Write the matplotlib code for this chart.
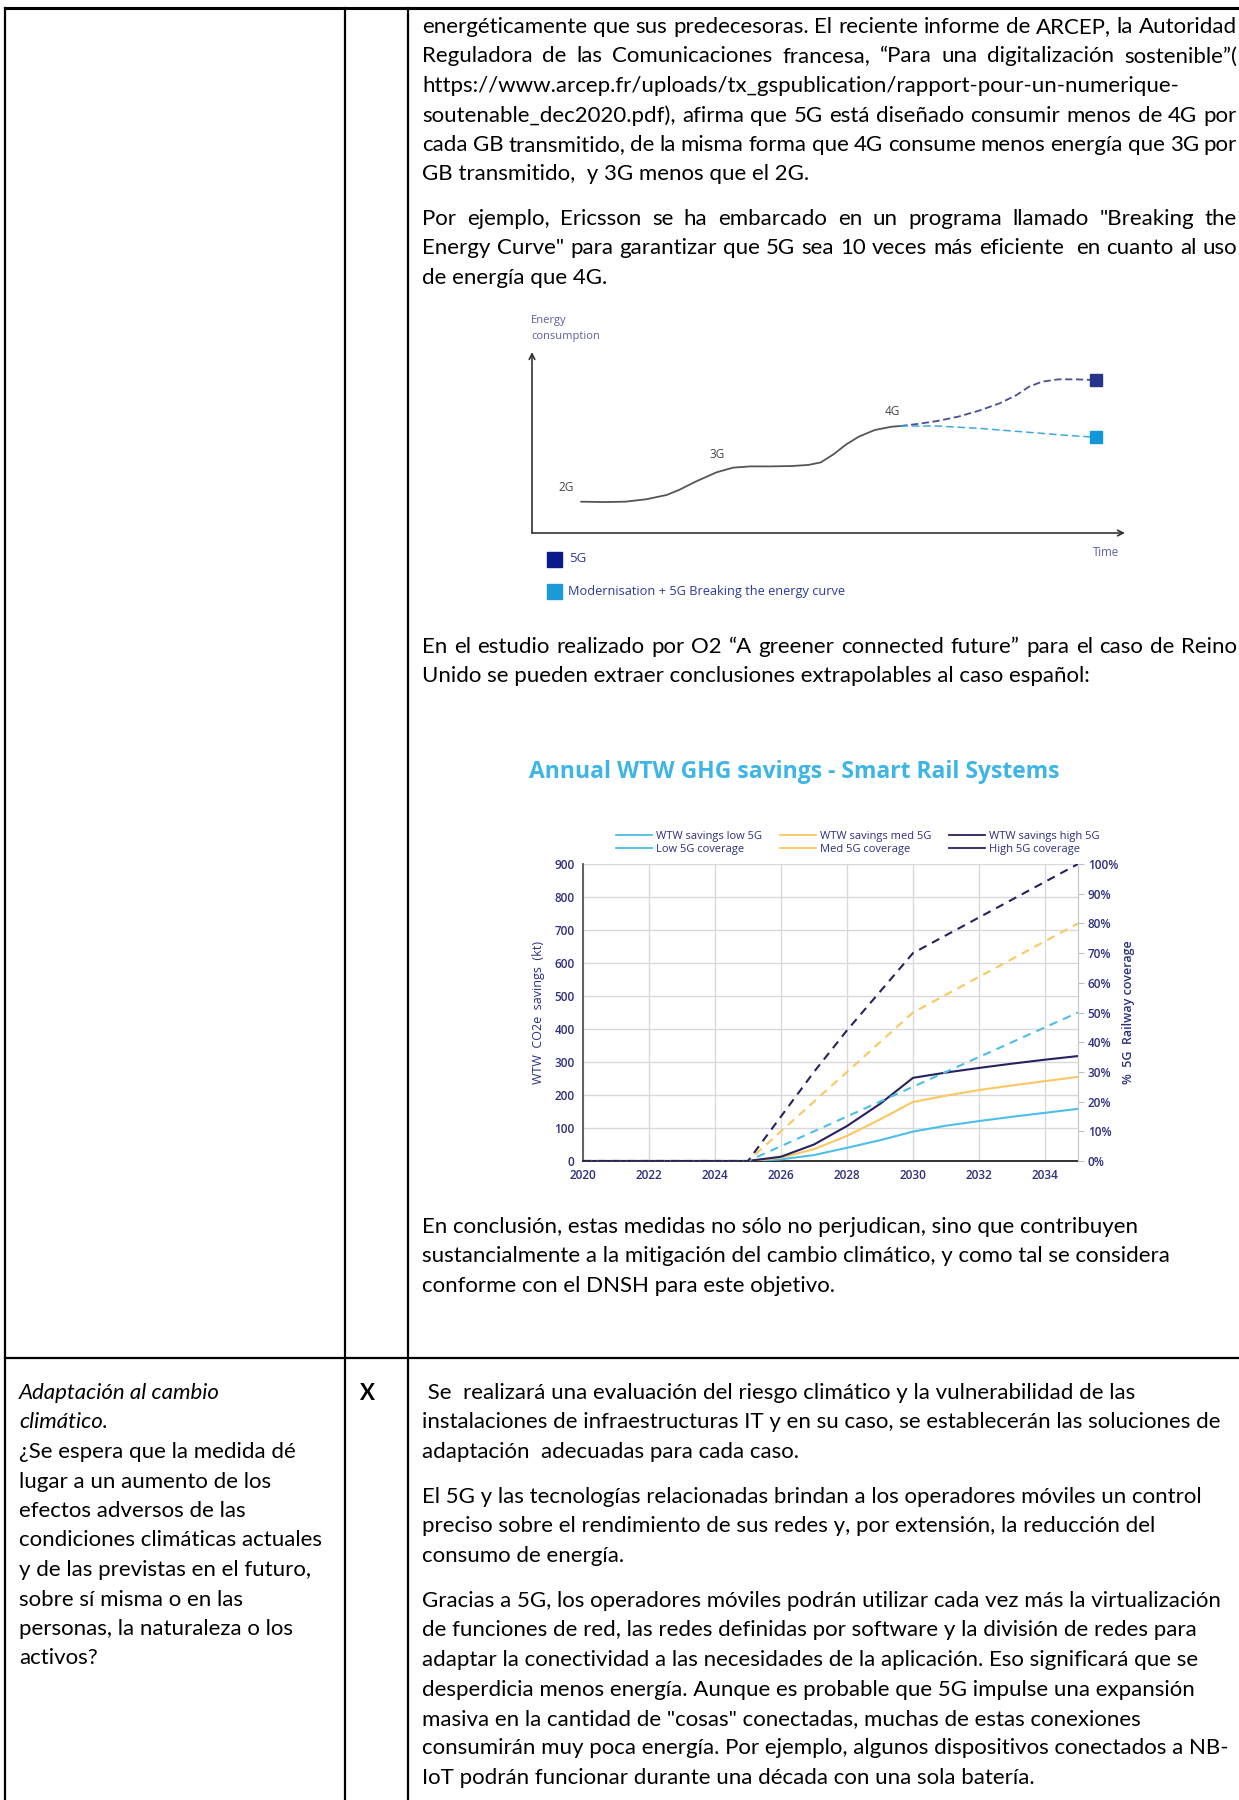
import matplotlib
matplotlib.use('Agg')
import matplotlib.pyplot as plt
from matplotlib.lines import Line2D
from matplotlib.patches import Rectangle

W, H = 1239, 1800

# --- chart 1: energy consumption sketch (x: time 0-100, y: energy 0-100)
gen_x = [8.3, 12.2, 15.7, 19.2, 22.7, 24.8, 27.6, 31.1, 33.9, 36.8, 40.3,
         43.8, 46.6, 48.7, 50.9, 53.0, 55.1, 57.8, 60.6, 62.1]
gen_y = [17.3, 17.1, 17.3, 18.6, 21.0, 23.8, 28.4, 33.5, 36.1, 36.8, 36.8,
         37.0, 37.6, 39.0, 43.6, 49.0, 53.2, 56.9, 58.7, 59.1]
g5_x = [62.1, 64.9, 68.4, 71.9, 75.4, 78.9, 81.7, 83.8, 86.0, 88.8, 91.6, 95.1]
g5_y = [59.1, 60.2, 61.9, 64.3, 67.6, 71.7, 76.2, 80.8, 83.6, 84.9, 84.9, 84.5]
mod_x = [62.1, 68.4, 75.4, 82.4, 89.5, 95.1]
mod_y = [59.1, 59.1, 57.8, 56.0, 54.1, 52.9]
gen_labels = ['2G', '3G', '4G']
gen_label_pos = [(5.7, 24.9), (31.2, 43.1), (60.7, 67.4)]

# --- chart 2: annual WTW GHG savings
years = list(range(2020, 2036))
low_wtw = [0, 0, 0, 0, 0, 0, 5, 18, 40, 63, 89, 107, 121, 134, 146, 158]
med_wtw = [0, 0, 0, 0, 0, 0, 10, 36, 76, 126, 179, 198, 215, 229, 242, 255]
high_wtw = [0, 0, 0, 0, 0, 0, 13, 50, 106, 173, 252, 268, 282, 295, 307, 318]
low_cov = [0, 0, 0, 0, 0, 0, 5, 10, 15, 20, 25, 30, 35, 40, 45, 50]
med_cov = [0, 0, 0, 0, 0, 0, 10, 20, 30, 40, 50, 56, 62, 68, 74, 80]
high_cov = [0, 0, 0, 0, 0, 0, 15, 30, 44, 57, 70, 76, 82, 88, 94, 100]
x_ticks = [2020, 2022, 2024, 2026, 2028, 2030, 2032, 2034]
y_ticks = [0, 100, 200, 300, 400, 500, 600, 700, 800, 900]
pct_ticks = [0, 10, 20, 30, 40, 50, 60, 70, 80, 90, 100]

# --- page text
p1 = ["energéticamente que sus predecesoras. El reciente informe de ARCEP, la Autoridad",
      "Reguladora de las Comunicaciones francesa, “Para una digitalización sostenible”(",
      "https://www.arcep.fr/uploads/tx_gspublication/rapport-pour-un-numerique-",
      "soutenable_dec2020.pdf), afirma que 5G está diseñado consumir menos de 4G por",
      "cada GB transmitido, de la misma forma que 4G consume menos energía que 3G por",
      "GB transmitido,  y 3G menos que el 2G."]
p1_just = [True, True, False, True, True, False]
p2 = ["Por ejemplo, Ericsson se ha embarcado en un programa llamado \"Breaking the",
      "Energy Curve\" para garantizar que 5G sea 10 veces más eficiente  en cuanto al uso",
      "de energía que 4G."]
p2_just = [True, True, False]
p3 = ["En el estudio realizado por O2 “A greener connected future” para el caso de Reino",
      "Unido se pueden extraer conclusiones extrapolables al caso español:"]
p3_just = [True, False]
p4 = ["En conclusión, estas medidas no sólo no perjudican, sino que contribuyen",
      "sustancialmente a la mitigación del cambio climático, y como tal se considera",
      "conforme con el DNSH para este objetivo."]
q1 = [" Se  realizará una evaluación del riesgo climático y la vulnerabilidad de las",
      "instalaciones de infraestructuras IT y en su caso, se establecerán las soluciones de",
      "adaptación  adecuadas para cada caso."]
q2 = ["El 5G y las tecnologías relacionadas brindan a los operadores móviles un control",
      "preciso sobre el rendimiento de sus redes y, por extensión, la reducción del",
      "consumo de energía."]
q3 = ["Gracias a 5G, los operadores móviles podrán utilizar cada vez más la virtualización",
      "de funciones de red, las redes definidas por software y la división de redes para",
      "adaptar la conectividad a las necesidades de la aplicación. Eso significará que se",
      "desperdicia menos energía. Aunque es probable que 5G impulse una expansión",
      "masiva en la cantidad de \"cosas\" conectadas, muchas de estas conexiones",
      "consumirán muy poca energía. Por ejemplo, algunos dispositivos conectados a NB-",
      "IoT podrán funcionar durante una década con una sola batería."]
left_col = ["Adaptación al cambio", "climático.", "¿Se espera que la medida dé",
            "lugar a un aumento de los", "efectos adversos de las",
            "condiciones climáticas actuales", "y de las previstas en el futuro,",
            "sobre sí misma o en las", "personas, la naturaleza o los", "activos?"]
left_italic = [True, True, False, False, False, False, False, False, False, False]

BODY = 'Lato'
CHART = 'Open Sans'
NAVY = '#2c2f7e'
C_LOW = '#4dbde9'
C_MED = '#fcc660'
C_HIGH = '#262160'


def px_rect(l, t, r, b):
    return [l / W, 1 - b / H, (r - l) / W, (b - t) / H]


fig = plt.figure(figsize=(W / 100, H / 100), dpi=100)
page = fig.add_axes([0, 0, 1, 1])
page.set_xlim(0, W)
page.set_ylim(H, 0)
page.axis('off')
renderer = fig.canvas.get_renderer()


def text_width(s, size, style='normal'):
    t = page.text(0, 0, s, fontsize=size, family=BODY, style=style)
    w = t.get_window_extent(renderer=renderer).width
    t.remove()
    return w


# fit body size on a non-justified reference line
body_size = 10 * 716 / text_width(p4[0], 10)


def put_line(s, x, y, right=None, style='normal', weight='normal'):
    if right is None:
        page.text(x, y, s, fontsize=body_size, family=BODY, style=style,
                  weight=weight, va='center', ha='left')
        return
    words = s.split(' ')
    widths = [text_width(w, body_size) for w in words]
    gap = (right - x - sum(widths)) / (len(words) - 1)
    pos = x
    for w, wd in zip(words, widths):
        page.text(pos, y, w, fontsize=body_size, family=BODY, va='center', ha='left')
        pos += wd + gap


def put_par(lines, y0, x=422, just=None, pitch=29.5):
    for i, s in enumerate(lines):
        r = 1237 if (just and just[i]) else None
        put_line(s, x, y0 + i * pitch, right=r)


put_par(p1, 27, just=p1_just)
put_par(p2, 219, just=p2_just)
put_par(p3, 647, just=p3_just)
put_par(p4, 1227)
put_par(q1, 1393)
put_par(q2, 1497)
put_par(q3, 1601)
for i, s in enumerate(left_col):
    put_line(s, 19, 1393 + i * 29.5, style='italic' if left_italic[i] else 'normal')
page.text(367, 1393, 'X', fontsize=body_size, family=BODY, weight='bold',
          va='center', ha='center')

# table rules
page.plot([5, W], [8, 8], color='black', lw=2.2)
page.plot([5, W], [1358, 1358], color='black', lw=1.6)
for xv in [5, 345, 408]:
    page.plot([xv, xv], [8, H], color='black', lw=1.6)

# --- chart 1
ax1 = fig.add_axes(px_rect(532, 352, 1125, 533))
ax1.set_xlim(0, 100)
ax1.set_ylim(0, 100)
ax1.axis('off')
ax1.annotate('', xy=(100, 0), xytext=(0, 0),
             arrowprops=dict(arrowstyle='->', color='#333333', lw=1.2, shrinkA=0, shrinkB=0))
ax1.annotate('', xy=(0, 100), xytext=(0, 0),
             arrowprops=dict(arrowstyle='->', color='#333333', lw=1.2, shrinkA=0, shrinkB=0))
ax1.plot(gen_x, gen_y, color='#555555', lw=1.3)
ax1.plot(g5_x, g5_y, color='#4a4f8f', lw=1.3, ls=(0, (4, 2)))
ax1.plot(mod_x, mod_y, color='#3fa7e0', lw=1.1, ls=(0, (5, 2.5)))
ax1.plot([g5_x[-1]], [g5_y[-1]], marker='s', ms=9, color='#26348a', ls='none')
ax1.plot([mod_x[-1]], [mod_y[-1]], marker='s', ms=9, color='#1196d6', ls='none')
for lab, (lx, ly) in zip(gen_labels, gen_label_pos):
    ax1.text(lx, ly, lab, fontsize=8.5, family=CHART, color='#444444', ha='center', va='center')
for i, s in enumerate(['Energy', 'consumption']):
    page.text(531, 321 + i * 15, s, fontsize=8, family=CHART, color='#5a5f9a',
              va='center', ha='left')
page.text(1106, 553, 'Time', fontsize=8.3, family=CHART, color='#5a5f9a',
          va='center', ha='center')
page.add_patch(Rectangle((547, 552), 15, 15, color='#0a1a8c'))
page.add_patch(Rectangle((547, 584), 15, 15, color='#1a9ad6'))
page.text(569, 558, '5G', fontsize=9.5, family=CHART, color='#2a3a9a', va='center')
page.text(568, 591, 'Modernisation + 5G Breaking the energy curve', fontsize=9.2,
          family=CHART, color='#2a3a9a', va='center')

# --- chart 2
page.text(794, 772, 'Annual WTW GHG savings - Smart Rail Systems', fontsize=16.5,
          family=CHART, weight='bold', color='#3db5e6', ha='center', va='center')
ax2 = fig.add_axes(px_rect(583, 864, 1078, 1161))
ax2.set_xlim(2020, 2035)
ax2.set_ylim(0, 900)
ax2.set_facecolor('none')
ax2.set_xticks(x_ticks)
ax2.set_yticks(y_ticks)
ax2.grid(True, color='#d9d9d9', lw=1)
ax2.set_axisbelow(True)
ax2.spines['top'].set_visible(False)
ax2.spines['right'].set_color('#c8c8c8')
ax2.spines['left'].set_color('#555555')
ax2.spines['left'].set_linewidth(1.3)
ax2.spines['bottom'].set_color('#222222')
ax2.spines['bottom'].set_linewidth(1.3)
ax2.tick_params(axis='both', length=0, pad=6, labelsize=8.5, labelcolor=NAVY)
for lab in ax2.get_xticklabels() + ax2.get_yticklabels():
    lab.set_family(CHART)
    lab.set_weight('semibold')
ax2.set_ylabel('WTW  CO2e  savings  (kt)', fontsize=9, family=CHART, color=NAVY, labelpad=7)

ax3 = ax2.twinx()
ax3.set_ylim(0, 100)
ax3.set_yticks(pct_ticks)
ax3.set_yticklabels([f'{p}%' for p in pct_ticks])
for s in ['top', 'left', 'bottom']:
    ax3.spines[s].set_visible(False)
ax3.spines['right'].set_color('#c8c8c8')
ax3.tick_params(axis='y', length=4, color='#bfbfbf', pad=3, labelsize=8.5, labelcolor=NAVY)
for lab in ax3.get_yticklabels():
    lab.set_family(CHART)
    lab.set_weight('semibold')
ax3.set_ylabel('%  5G  Railway coverage', fontsize=9, family=CHART, color=NAVY,
               weight='semibold', labelpad=3)

ax2.plot(years, low_wtw, color=C_LOW, lw=1.5, zorder=3)
ax2.plot(years, med_wtw, color=C_MED, lw=1.5, zorder=3)
ax2.plot(years, high_wtw, color=C_HIGH, lw=1.5, zorder=3)
ax3.plot(years, low_cov, color=C_LOW, lw=1.5, ls=(0, (4, 3)))
ax3.plot(years, med_cov, color=C_MED, lw=1.5, ls=(0, (4, 3)))
ax3.plot(years, high_cov, color=C_HIGH, lw=1.5, ls=(0, (4, 3)))

handles = [Line2D([], [], color=C_LOW, lw=1.3), Line2D([], [], color=C_LOW, lw=1.3),
           Line2D([], [], color=C_MED, lw=1.3), Line2D([], [], color=C_MED, lw=1.3),
           Line2D([], [], color=C_HIGH, lw=1.3), Line2D([], [], color=C_HIGH, lw=1.3)]
labels = ['WTW savings low 5G', 'Low 5G coverage', 'WTW savings med 5G',
          'Med 5G coverage', 'WTW savings high 5G', 'High 5G coverage']
leg = fig.legend(handles, labels, ncol=3, loc='center',
                 bbox_to_anchor=(858 / W, 1 - 843 / H), frameon=False,
                 prop={'family': CHART, 'size': 8}, handlelength=3.2,
                 handletextpad=0.4, columnspacing=1.6, labelspacing=0.15)
for t in leg.get_texts():
    t.set_color(NAVY)

fig.savefig('out.png', dpi=100)
